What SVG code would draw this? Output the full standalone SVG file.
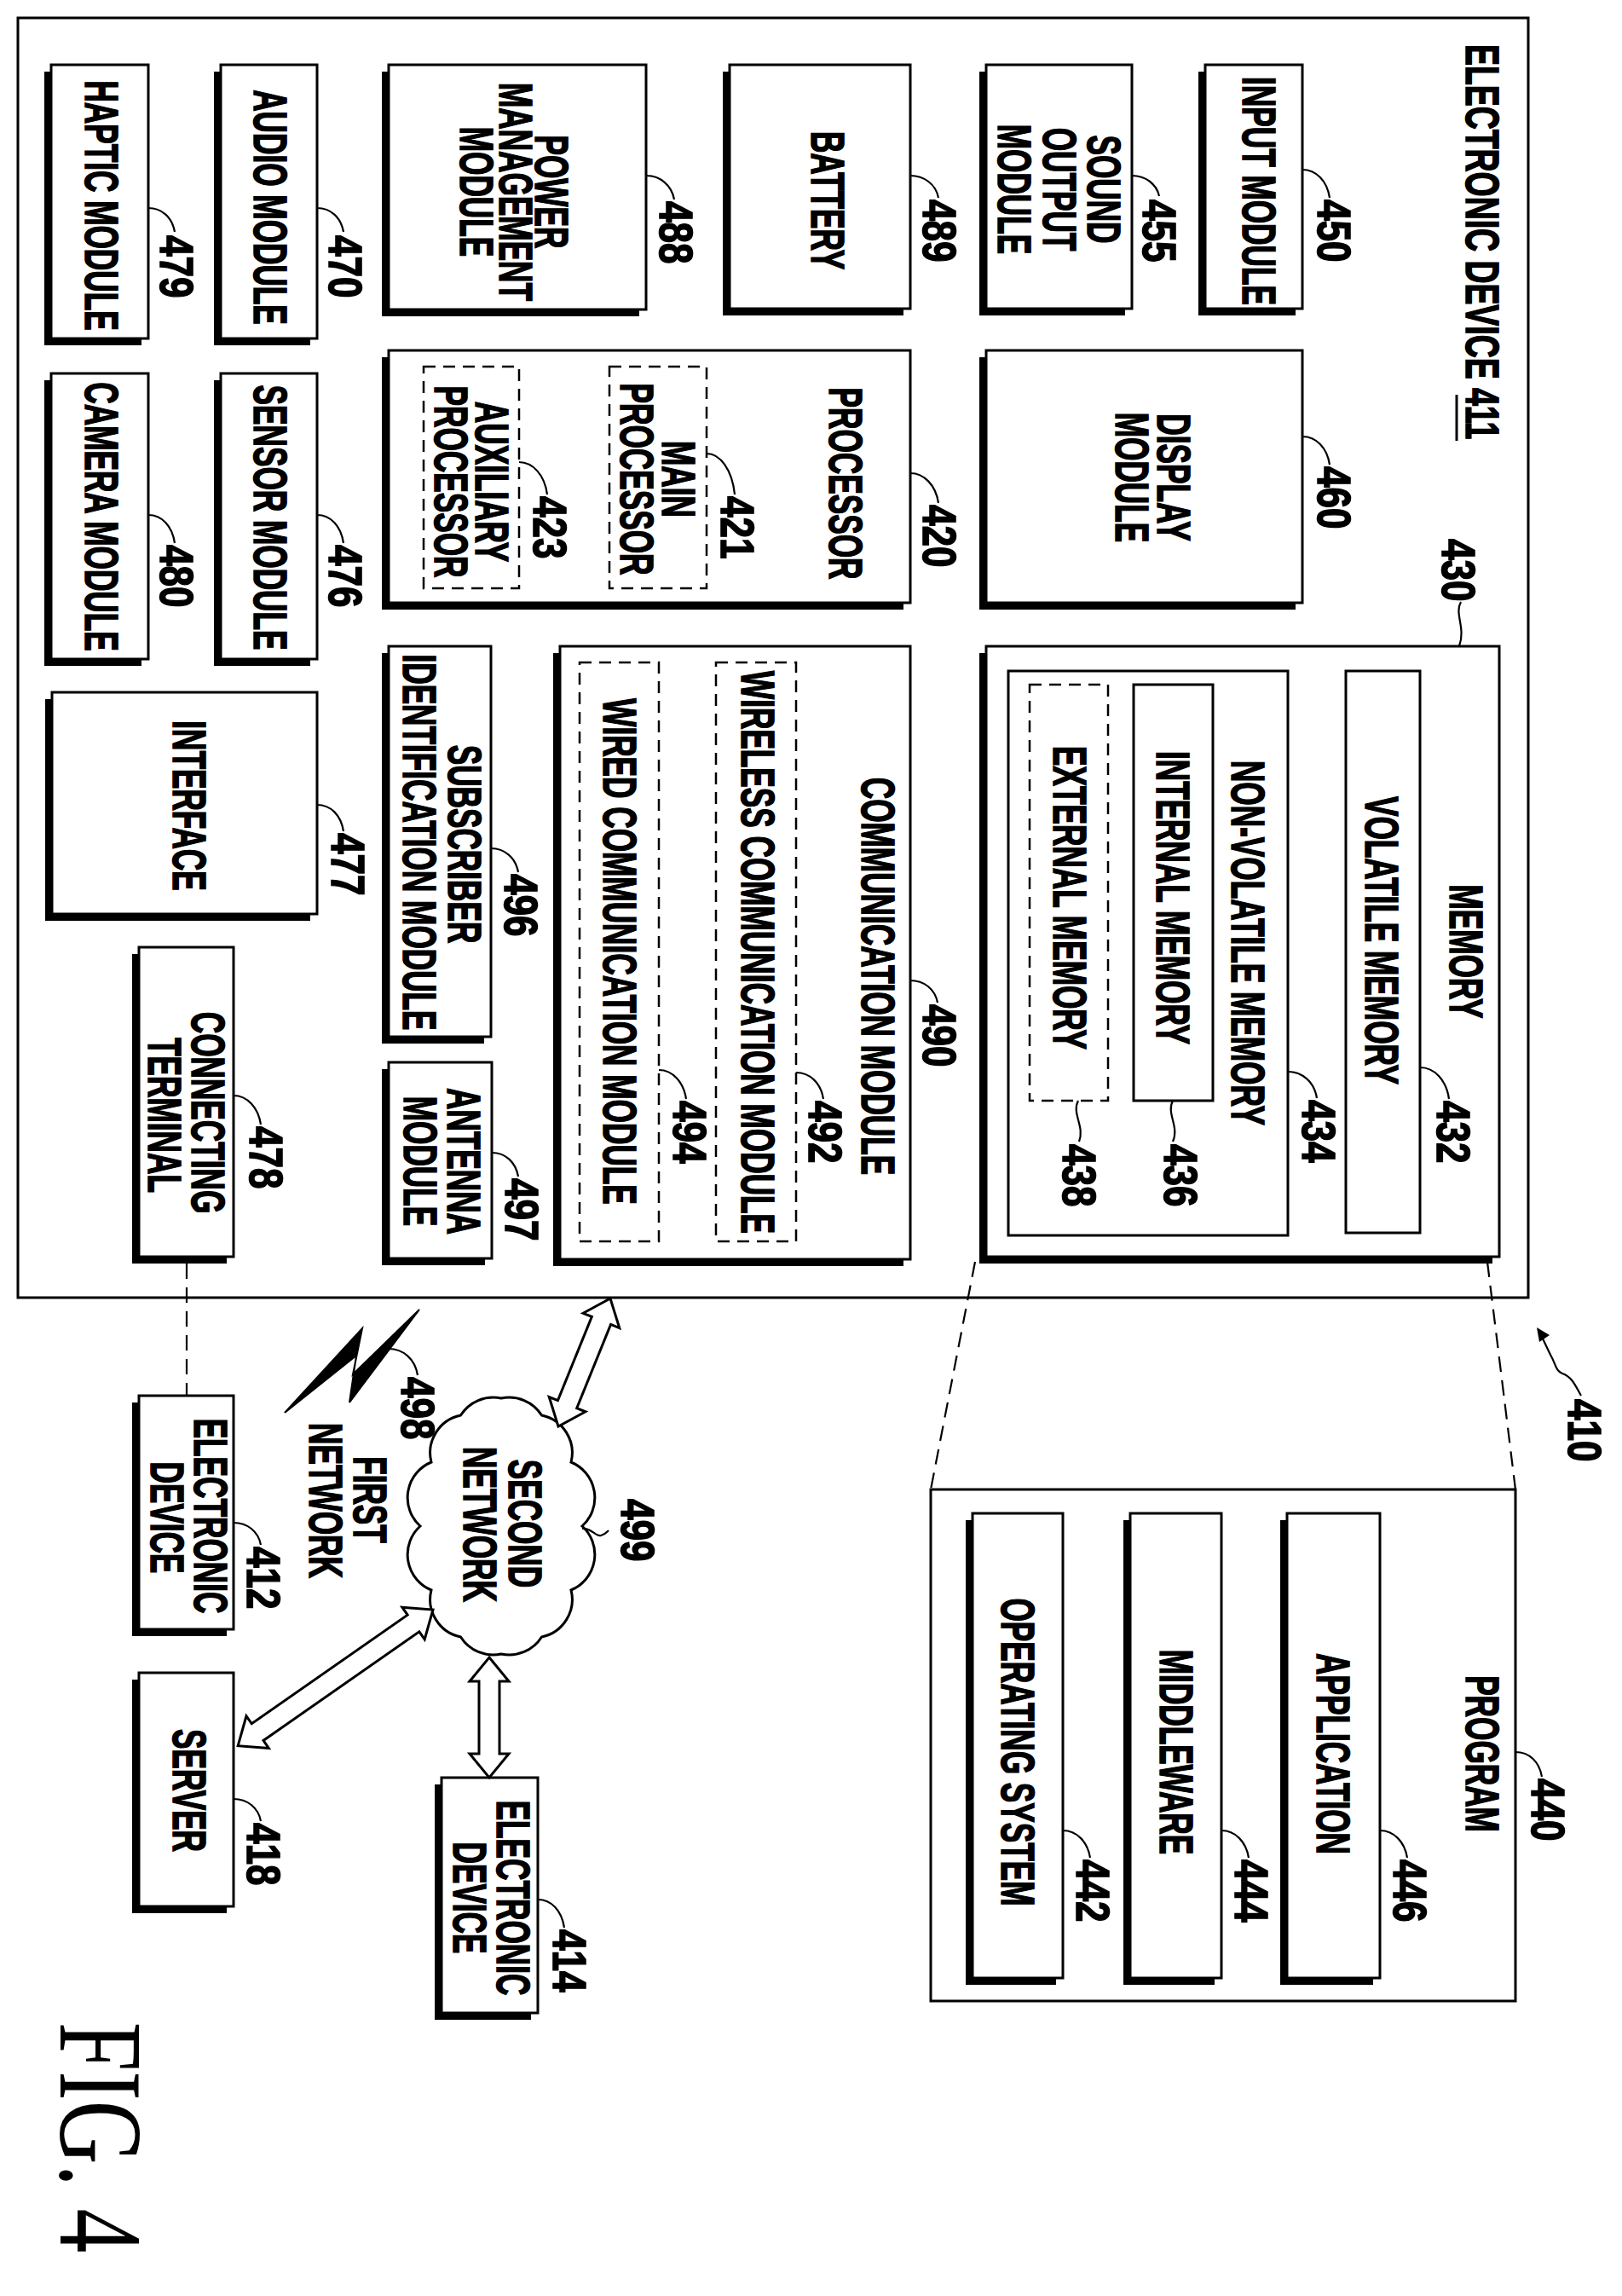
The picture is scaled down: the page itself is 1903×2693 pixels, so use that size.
<svg xmlns="http://www.w3.org/2000/svg" width="1903" height="2693" viewBox="0 0 1903 2693">
<style>
.b{fill:#fff;stroke:#000;stroke-width:3}
.s{fill:#000}
.d{fill:#fff;stroke:#000;stroke-width:2.5;stroke-dasharray:14 9}
.t{font-family:"Liberation Sans",Arial,sans-serif;font-weight:bold;font-size:55px;text-anchor:middle;fill:#000;stroke:#000;stroke-width:1.6}
.n{font-family:"Liberation Sans",Arial,sans-serif;font-weight:bold;font-size:55px;text-anchor:start;fill:#000;stroke:#000;stroke-width:1.6}
.l{fill:none;stroke:#000;stroke-width:2.2}
.dl{fill:none;stroke:#000;stroke-width:2.2;stroke-dasharray:18 10}
.ar{fill:#fff;stroke:#000;stroke-width:3;stroke-linejoin:miter}
</style>
<rect x="0" y="0" width="1903" height="2693" fill="#fff"/>
<g id="electronic-device-411">
<rect class="b" x="21" y="21" width="1772" height="1501" stroke-width="3.5"/>
<text class="n" transform="translate(1720,52) rotate(90) scale(0.68,1)">ELECTRONIC DEVICE 411</text>
<line x1="1709" y1="463" x2="1709" y2="517" stroke="#000" stroke-width="3"/>
</g>
<g id="haptic"><rect class="s" x="52" y="84" width="114" height="321"/><rect class="b" x="60" y="76" width="114" height="321"/>
<text class="t" transform="translate(100,241) rotate(90) scale(0.64,1)">HAPTIC MODULE</text></g>
<g id="audio"><rect class="s" x="251" y="84" width="113" height="321"/><rect class="b" x="259" y="76" width="113" height="321"/>
<text class="t" transform="translate(298,243) rotate(90) scale(0.64,1)">AUDIO MODULE</text></g>
<g id="power"><rect class="s" x="448" y="84" width="302" height="287"/><rect class="b" x="456" y="76" width="302" height="287"/>
<text class="t" transform="translate(628,225) rotate(90) scale(0.64,1)">POWER</text>
<text class="t" transform="translate(586,225) rotate(90) scale(0.64,1)">MANAGEMENT</text>
<text class="t" transform="translate(540,225) rotate(90) scale(0.64,1)">MODULE</text></g>
<g id="battery"><rect class="s" x="848" y="84" width="212" height="286"/><rect class="b" x="856" y="76" width="212" height="286"/>
<text class="t" transform="translate(952,235) rotate(90) scale(0.64,1)">BATTERY</text></g>
<g id="sound"><rect class="s" x="1149" y="84" width="171" height="286"/><rect class="b" x="1157" y="76" width="171" height="286"/>
<text class="t" transform="translate(1276,222) rotate(90) scale(0.64,1)">SOUND</text>
<text class="t" transform="translate(1224,222) rotate(90) scale(0.64,1)">OUTPUT</text>
<text class="t" transform="translate(1171,222) rotate(90) scale(0.64,1)">MODULE</text></g>
<g id="input"><rect class="s" x="1406" y="84" width="114" height="286"/><rect class="b" x="1414" y="76" width="114" height="286"/>
<text class="t" transform="translate(1458,224) rotate(90) scale(0.64,1)">INPUT MODULE</text></g>
<g id="display"><rect class="s" x="1149" y="419" width="371" height="296"/><rect class="b" x="1157" y="411" width="371" height="296"/>
<text class="t" transform="translate(1358,560) rotate(90) scale(0.64,1)">DISPLAY</text>
<text class="t" transform="translate(1309,560) rotate(90) scale(0.64,1)">MODULE</text></g>
<g id="processor"><rect class="s" x="448" y="419" width="612" height="296"/><rect class="b" x="456" y="411" width="612" height="296"/>
<text class="t" transform="translate(973,567) rotate(90) scale(0.64,1)">PROCESSOR</text>
<rect class="d" x="715" y="430" width="114" height="260"/>
<text class="t" transform="translate(777,562) rotate(90) scale(0.64,1)">MAIN</text>
<text class="t" transform="translate(728,562) rotate(90) scale(0.64,1)">PROCESSOR</text>
<rect class="d" x="497" y="430" width="112" height="260"/>
<text class="t" transform="translate(558,565) rotate(90) scale(0.64,1)">AUXILIARY</text>
<text class="t" transform="translate(510,565) rotate(90) scale(0.64,1)">PROCESSOR</text></g>
<g id="sensor"><rect class="s" x="251" y="446" width="113" height="335"/><rect class="b" x="259" y="438" width="113" height="335"/>
<text class="t" transform="translate(298,607) rotate(90) scale(0.64,1)">SENSOR MODULE</text></g>
<g id="camera"><rect class="s" x="52" y="446" width="114" height="335"/><rect class="b" x="60" y="438" width="114" height="335"/>
<text class="t" transform="translate(100,606) rotate(90) scale(0.64,1)">CAMERA MODULE</text></g>
<g id="interface"><rect class="s" x="53" y="820" width="311" height="260"/><rect class="b" x="61" y="812" width="311" height="260"/>
<text class="t" transform="translate(203,945) rotate(90) scale(0.64,1)">INTERFACE</text></g>
<g id="connecting-terminal"><rect class="s" x="155" y="1119" width="111" height="363"/><rect class="b" x="163" y="1111" width="111" height="363"/>
<text class="t" transform="translate(225,1305) rotate(90) scale(0.64,1)">CONNECTING</text>
<text class="t" transform="translate(174,1308) rotate(90) scale(0.64,1)">TERMINAL</text></g>
<g id="subscriber"><rect class="s" x="448" y="766" width="120" height="458"/><rect class="b" x="456" y="758" width="120" height="458"/>
<text class="t" transform="translate(526,990) rotate(90) scale(0.64,1)">SUBSCRIBER</text>
<text class="t" transform="translate(473,988) rotate(90) scale(0.64,1)">IDENTIFICATION MODULE</text></g>
<g id="antenna"><rect class="s" x="448" y="1254" width="121" height="230"/><rect class="b" x="456" y="1246" width="121" height="230"/>
<text class="t" transform="translate(525,1362) rotate(90) scale(0.64,1)">ANTENNA</text>
<text class="t" transform="translate(474,1362) rotate(90) scale(0.64,1)">MODULE</text></g>
<g id="communication"><rect class="s" x="649" y="766" width="411" height="719"/><rect class="b" x="657" y="758" width="411" height="719"/>
<text class="t" transform="translate(1011,1145) rotate(90) scale(0.64,1)">COMMUNICATION MODULE</text>
<rect class="d" x="840" y="777" width="94" height="679"/>
<text class="t" transform="translate(870,1117) rotate(90) scale(0.64,1)">WIRELESS COMMUNICATION MODULE</text>
<rect class="d" x="680" y="777" width="93" height="679"/>
<text class="t" transform="translate(708,1116) rotate(90) scale(0.64,1)">WIRED COMMUNICATION MODULE</text></g>
<g id="memory"><rect class="s" x="1149" y="766" width="602" height="716"/><rect class="b" x="1157" y="758" width="602" height="716"/>
<text class="t" transform="translate(1701,1116) rotate(90) scale(0.64,1)">MEMORY</text>
<rect class="b" x="1579" y="787" width="87" height="659"/>
<text class="t" transform="translate(1602,1103) rotate(90) scale(0.64,1)">VOLATILE MEMORY</text>
<rect class="b" x="1183" y="787" width="328" height="662"/>
<text class="t" transform="translate(1445,1106) rotate(90) scale(0.64,1)">NON-VOLATILE MEMORY</text>
<rect class="b" x="1330" y="803" width="93" height="488"/>
<text class="t" transform="translate(1357,1053) rotate(90) scale(0.64,1)">INTERNAL MEMORY</text>
<rect class="d" x="1208" y="803" width="92" height="488"/>
<text class="t" transform="translate(1236,1053) rotate(90) scale(0.64,1)">EXTERNAL MEMORY</text></g>
<g id="program"><rect class="b" x="1092" y="1747" width="686" height="600"/>
<text class="t" transform="translate(1720,2057) rotate(90) scale(0.64,1)">PROGRAM</text>
<rect class="s" x="1502" y="1783" width="109" height="545"/><rect class="b" x="1510" y="1775" width="109" height="545"/>
<text class="t" transform="translate(1545,2057) rotate(90) scale(0.64,1)">APPLICATION</text>
<rect class="s" x="1318" y="1783" width="107" height="545"/><rect class="b" x="1326" y="1775" width="107" height="545"/>
<text class="t" transform="translate(1361,2055) rotate(90) scale(0.64,1)">MIDDLEWARE</text>
<rect class="s" x="1133" y="1783" width="106" height="545"/><rect class="b" x="1141" y="1775" width="106" height="545"/>
<text class="t" transform="translate(1175,2055) rotate(90) scale(0.64,1)">OPERATING SYSTEM</text></g>
<g id="device-412"><rect class="s" x="155" y="1645" width="111" height="274"/><rect class="b" x="163" y="1637" width="111" height="274"/>
<text class="t" transform="translate(228,1778) rotate(90) scale(0.64,1)">ELECTRONIC</text>
<text class="t" transform="translate(177,1780) rotate(90) scale(0.64,1)">DEVICE</text></g>
<g id="server"><rect class="s" x="155" y="1970" width="111" height="274"/><rect class="b" x="163" y="1962" width="111" height="274"/>
<text class="t" transform="translate(203,2100) rotate(90) scale(0.64,1)">SERVER</text></g>
<g id="device-414"><rect class="s" x="510" y="2093" width="113" height="276"/><rect class="b" x="518" y="2085" width="113" height="276"/>
<text class="t" transform="translate(583,2226) rotate(90) scale(0.64,1)">ELECTRONIC</text>
<text class="t" transform="translate(532,2226) rotate(90) scale(0.64,1)">DEVICE</text></g>
<g id="second-network">
<path class="b" d="M588,1640 A45,45 0 0 1 635.5,1660 A45,45 0 0 1 670,1715 A45,45 0 0 1 683,1790 A45,45 0 0 1 670,1865 A45,45 0 0 1 635.5,1920 A45,45 0 0 1 588,1940 A45,45 0 0 1 540.5,1920 A45,45 0 0 1 506,1865 A45,45 0 0 1 493,1790 A45,45 0 0 1 506,1715 A45,45 0 0 1 540.5,1660 A45,45 0 0 1 588,1640 Z"/>
<text class="t" transform="translate(597,1787) rotate(90) scale(0.64,1)">SECOND</text>
<text class="t" transform="translate(544,1788) rotate(90) scale(0.64,1)">NETWORK</text></g>
<g id="first-network">
<polygon points="334,1657 425,1558 414,1612 492,1536 410,1645 418,1590" fill="#000" stroke="#000" stroke-width="2"/>
<text class="t" transform="translate(415,1759) rotate(90) scale(0.64,1)">FIRST</text>
<text class="t" transform="translate(363,1760) rotate(90) scale(0.64,1)">NETWORK</text></g>
<g id="connectors">
<line class="dl" x1="219" y1="1482" x2="219" y2="1637"/>
<line class="dl" x1="1144" y1="1480" x2="1092" y2="1747"/>
<line class="dl" x1="1745" y1="1480" x2="1778" y2="1747"/>
<path class="ar" transform="translate(716,1523) rotate(112.1)" d="M0,0 L28,-23 L28,-12 L134,-12 L134,-23 L162,0 L134,23 L134,12 L28,12 L28,23 Z"/>
<path class="ar" transform="translate(508,1888) rotate(145.1)" d="M0,0 L28,-23 L28,-12 L251,-12 L251,-23 L279,0 L251,23 L251,12 L28,12 L28,23 Z"/>
<path class="ar" transform="translate(574,1944) rotate(90)" d="M0,0 L28,-23 L28,-12 L113,-12 L113,-23 L141,0 L113,23 L113,12 L28,12 L28,23 Z"/>
<path class="l" d="M1855,1637 c-6,-10 -10,-22 -22,-26 c-8,-3 -8,-12 -14,-22 L1808,1566"/>
<polygon points="1803,1557 1818,1566 1806,1574" fill="#000"/>
</g>
<g id="leaders">
<path class="l" d="M174,244 c16,0 28,11 31,28"/>
<path class="l" d="M372,244 c16,0 28,11 31,28"/>
<path class="l" d="M758,206 c16,0 30,11 33,28"/>
<path class="l" d="M1068,206 c16,0 30,10 33,26"/>
<path class="l" d="M1328,206 c16,0 29,10 32,24"/>
<path class="l" d="M1528,199 c16,0 29,13 32,33"/>
<path class="l" d="M1528,512 c16,0 29,13 32,33"/>
<path class="l" d="M1068,555 c16,0 30,14 33,35"/>
<path class="l" d="M829,532 c16,0 30,19 33,48"/>
<path class="l" d="M609,542 c16,0 30,15 33,38"/>
<path class="l" d="M372,604 c16,0 28,13 31,33"/>
<path class="l" d="M174,604 c16,0 28,13 31,33"/>
<path class="l" d="M372,944 c16,0 28,12 31,31"/>
<path class="l" d="M576,995 c16,0 29,11 32,28"/>
<path class="l" d="M274,1285 c16,0 29,14 32,34"/>
<path class="l" d="M577,1352 c16,0 28,11 31,28"/>
<path class="l" d="M773,1255 c16,0 29,14 32,34"/>
<path class="l" d="M934,1258 c16,0 29,12 32,31"/>
<path class="l" d="M1068,1150 c16,0 29,10 32,26"/>
<path class="l" d="M1666,1252 c17,0 31,15 34,37"/>
<path class="l" d="M1511,1257 c17,0 31,12 34,31"/>
<path class="l" d="M1778,2055 c16,0 28,11 31,29"/>
<path class="l" d="M1619,2147 c16,0 29,13 32,32"/>
<path class="l" d="M1433,2147 c16,0 29,13 32,32"/>
<path class="l" d="M1247,2147 c16,0 29,13 32,32"/>
<path class="l" d="M274,1786 c16,0 29,10 32,26"/>
<path class="l" d="M274,2110 c16,0 29,10 32,26"/>
<path class="l" d="M631,2228 c16,0 28,13 31,33"/>
<path class="l" d="M456,1582 c17,0 31,12 34,31"/>
<path class="l" d="M683,1793 c10,-2 16,10 22,8 c5,-1 7,-4 9,-6"/>
<path class="l" d="M1714,706 c-8,14 6,30 -2,52"/>
<path class="l" d="M1376,1291 c-8,15 8,30 0,48"/>
<path class="l" d="M1265,1291 c-8,15 8,30 1,48"/>
</g>
<g id="numbers">
<text class="n" transform="translate(188,276) rotate(90) scale(0.8,1)">479</text>
<text class="n" transform="translate(386,276) rotate(90) scale(0.8,1)">470</text>
<text class="n" transform="translate(774,236) rotate(90) scale(0.8,1)">488</text>
<text class="n" transform="translate(1083,234) rotate(90) scale(0.8,1)">489</text>
<text class="n" transform="translate(1341,234) rotate(90) scale(0.8,1)">455</text>
<text class="n" transform="translate(1546,234) rotate(90) scale(0.8,1)">450</text>
<text class="n" transform="translate(1546,547) rotate(90) scale(0.8,1)">460</text>
<text class="n" transform="translate(1083,592) rotate(90) scale(0.8,1)">420</text>
<text class="n" transform="translate(1692,632) rotate(90) scale(0.8,1)">430</text>
<text class="n" transform="translate(846,582) rotate(90) scale(0.8,1)">421</text>
<text class="n" transform="translate(626,582) rotate(90) scale(0.8,1)">423</text>
<text class="n" transform="translate(386,639) rotate(90) scale(0.8,1)">476</text>
<text class="n" transform="translate(188,639) rotate(90) scale(0.8,1)">480</text>
<text class="n" transform="translate(389,977) rotate(90) scale(0.8,1)">477</text>
<text class="n" transform="translate(592,1025) rotate(90) scale(0.8,1)">496</text>
<text class="n" transform="translate(293,1321) rotate(90) scale(0.8,1)">478</text>
<text class="n" transform="translate(593,1382) rotate(90) scale(0.8,1)">497</text>
<text class="n" transform="translate(790,1291) rotate(90) scale(0.8,1)">494</text>
<text class="n" transform="translate(949,1291) rotate(90) scale(0.8,1)">492</text>
<text class="n" transform="translate(1083,1178) rotate(90) scale(0.8,1)">490</text>
<text class="n" transform="translate(1686,1291) rotate(90) scale(0.8,1)">432</text>
<text class="n" transform="translate(1528,1290) rotate(90) scale(0.8,1)">434</text>
<text class="n" transform="translate(1366,1342) rotate(90) scale(0.8,1)">436</text>
<text class="n" transform="translate(1247,1342) rotate(90) scale(0.8,1)">438</text>
<text class="n" transform="translate(1797,2086) rotate(90) scale(0.8,1)">440</text>
<text class="n" transform="translate(1635,2181) rotate(90) scale(0.8,1)">446</text>
<text class="n" transform="translate(1449,2181) rotate(90) scale(0.8,1)">444</text>
<text class="n" transform="translate(1263,2181) rotate(90) scale(0.8,1)">442</text>
<text class="n" transform="translate(290,1814) rotate(90) scale(0.8,1)">412</text>
<text class="n" transform="translate(290,2138) rotate(90) scale(0.8,1)">418</text>
<text class="n" transform="translate(649,2263) rotate(90) scale(0.8,1)">414</text>
<text class="n" transform="translate(471,1615) rotate(90) scale(0.8,1)">498</text>
<text class="n" transform="translate(729,1758) rotate(90) scale(0.8,1)">499</text>
<text class="n" transform="translate(1840,1641) rotate(90) scale(0.8,1)">410</text>
</g>
<text transform="translate(71,2507) rotate(90) scale(0.74,1)" font-family="Liberation Serif,Times New Roman,serif" font-size="140" text-anchor="middle">FIG. 4</text>
</svg>
